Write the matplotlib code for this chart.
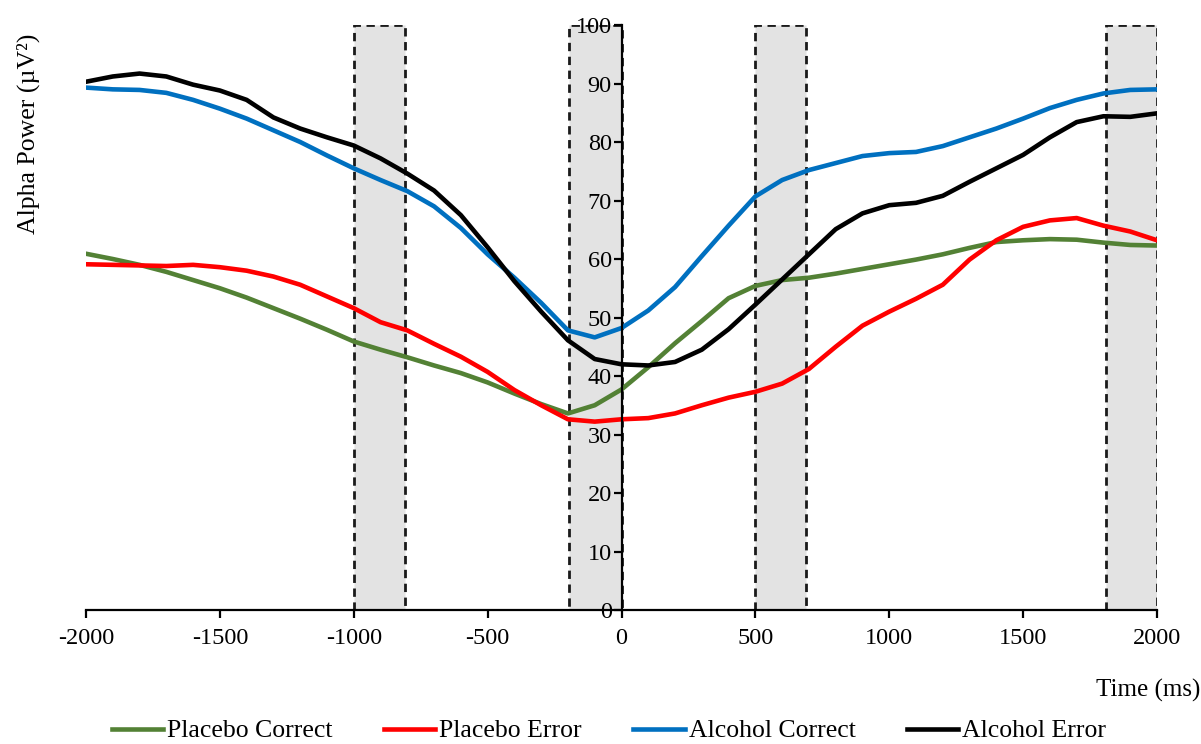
import numpy as np
import matplotlib
matplotlib.use("Agg")
import matplotlib.pyplot as plt

plt.rcParams['font.family'] = ['Liberation Serif', 'DejaVu Serif']
plt.rcParams['axes.unicode_minus'] = False

# time axis (ms), one reading every 100 ms
time_ms = list(range(-2000, 2001, 100))

placebo_correct = [60.9, 60.0, 59.0, 57.8, 56.4, 55.0, 53.4, 51.6, 49.8, 47.9,
                   45.9, 44.5, 43.2, 41.8, 40.5, 38.9, 37.0, 35.2, 33.6, 35.0,
                   37.7, 41.5, 45.6, 49.4, 53.3, 55.4, 56.4, 56.8, 57.5, 58.3,
                   59.1, 59.9, 60.8, 61.9, 62.9, 63.2, 63.4, 63.3, 62.8, 62.4, 62.3]
placebo_error = [59.1, 59.0, 58.9, 58.8, 59.0, 58.6, 58.0, 57.0, 55.6, 53.6,
                 51.6, 49.2, 47.8, 45.5, 43.3, 40.7, 37.6, 35.0, 32.6, 32.2,
                 32.6, 32.8, 33.6, 35.0, 36.3, 37.3, 38.7, 41.2, 45.0, 48.6,
                 51.0, 53.2, 55.6, 59.9, 63.2, 65.5, 66.6, 67.0, 65.7, 64.7, 63.2]
alcohol_correct = [89.3, 89.0, 88.9, 88.4, 87.2, 85.7, 84.0, 82.0, 80.0, 77.7,
                   75.5, 73.5, 71.6, 69.0, 65.3, 60.8, 56.8, 52.5, 47.8, 46.6,
                   48.2, 51.2, 55.2, 60.5, 65.7, 70.7, 73.5, 75.2, 76.4, 77.6,
                   78.1, 78.3, 79.3, 80.8, 82.3, 84.0, 85.8, 87.2, 88.3, 88.9, 89.0]
alcohol_error = [90.3, 91.2, 91.7, 91.2, 89.8, 88.8, 87.2, 84.2, 82.3, 80.8,
                 79.4, 77.2, 74.6, 71.7, 67.5, 62.0, 56.2, 51.0, 46.1, 42.9,
                 42.0, 41.8, 42.4, 44.5, 48.0, 52.2, 56.5, 60.8, 65.1, 67.8,
                 69.2, 69.6, 70.8, 73.2, 75.5, 77.8, 80.8, 83.4, 84.4, 84.3, 84.9]

# analysis windows (ms)
window_starts = [-1000, -195, 500, 1810]
window_ends = [-810, 0, 690, 2000]

series = [
    ("Placebo Correct", placebo_correct, "#538135"),
    ("Placebo Error", placebo_error, "#FF0000"),
    ("Alcohol Correct", alcohol_correct, "#0070C0"),
    ("Alcohol Error", alcohol_error, "#000000"),
]

fig = plt.figure(figsize=(12.01, 7.44), dpi=100)
ax = fig.add_axes([86 / 1201, 1 - 610 / 744, (1157 - 86) / 1201, (610 - 25) / 744])

for a, b in zip(window_starts, window_ends):
    ax.axvspan(a, b, ymin=0, ymax=1, facecolor="#e3e3e3", edgecolor="#1a1a1a",
               linestyle=(0, (3, 2)), linewidth=2.0, zorder=1)

for name, vals, col in series:
    ax.plot(time_ms, vals, color=col, lw=3.3, label=name, zorder=3,
            solid_joinstyle="round")

ax.set_xlim(-2000, 2000)
ax.set_ylim(0, 100)
ax.set_xticks(np.arange(-2000, 2001, 500))
ax.set_yticks(np.arange(0, 101, 10))

ax.spines['left'].set_position(('data', 0))
ax.spines['top'].set_visible(False)
ax.spines['right'].set_visible(False)
for s in ('left', 'bottom'):
    ax.spines[s].set_linewidth(1.6)
    ax.spines[s].set_zorder(4)

ax.tick_params(axis='both', direction='out', length=6, width=1.6, labelsize=17.5,
               colors='black')
ax.tick_params(axis='x', pad=7)
ax.tick_params(axis='y', pad=1)

fig.text(28 / 1201, 1 - 134 / 744, "Alpha Power (\u00b5V\u00b2)", rotation=90,
         ha='center', va='center', fontsize=18.5)
fig.text(1200 / 1201, 1 - 690 / 744, "Time (ms)", ha='right', va='center',
         fontsize=18)

ax.legend(loc='center', bbox_to_anchor=(609 / 1201, 1 - 731 / 744),
          bbox_transform=fig.transFigure, ncol=4, frameon=False, fontsize=18.5,
          handlelength=2.0, handletextpad=0.15, columnspacing=2.0,
          borderaxespad=0, borderpad=0)

fig.savefig("out.png", dpi=100)
